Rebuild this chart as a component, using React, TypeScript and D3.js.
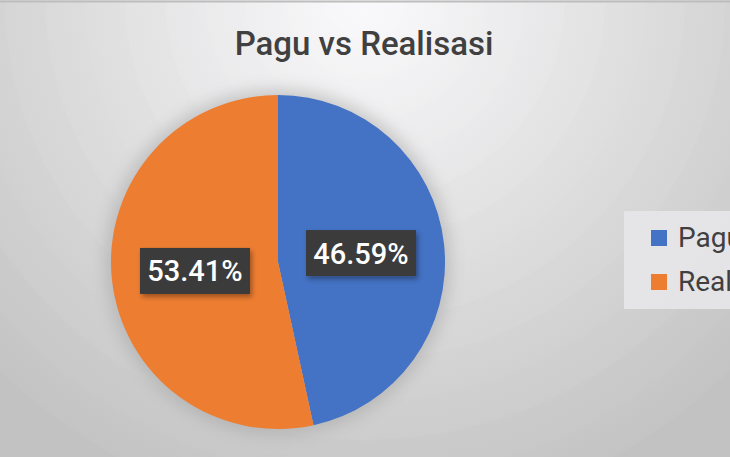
import { useEffect, useRef } from "react";
import * as d3 from "d3";

const categories = ["Pagu", "Realisasi"];
const values = [46.59, 53.41];
const colors = ["#4472c4", "#ed7d31"];

export default function App() {
	const ref = useRef<SVGSVGElement>(null);

	useEffect(() => {
		const svg = d3.select(ref.current);
		svg.selectAll("*").remove();

		const width = 730;
		const height = 457;
		const cx = 278;
		const cy = 262;
		const radius = 167;

		const defs = svg.append("defs");

		// Background radial gradient, stepped to mimic the banding
		const grad = defs.append("radialGradient")
			.attr("id", "bg-grad")
			.attr("gradientUnits", "userSpaceOnUse")
			.attr("cx", 365)
			.attr("cy", 0)
			.attr("r", 560);
		const bands = 14;
		const mix = d3.interpolateRgb("#f9f8fa", "#c2c2c2");
		for (let i = 0; i < bands; i++) {
			const c = mix(Math.pow(i / (bands - 1), 1.1));
			const next = mix(Math.pow(Math.min(i + 0.6, bands - 1) / (bands - 1), 1.1));
			grad.append("stop").attr("offset", i / bands).attr("stop-color", c);
			grad.append("stop").attr("offset", (i + 1) / bands - 0.001).attr("stop-color", next);
		}

		// Soft halo behind the pie
		const halo = defs.append("filter")
			.attr("id", "halo")
			.attr("x", "-30%").attr("y", "-30%")
			.attr("width", "160%").attr("height", "160%");
		halo.append("feGaussianBlur").attr("stdDeviation", 8);

		const shadow = defs.append("filter")
			.attr("id", "box-shadow")
			.attr("x", "-20%").attr("y", "-20%")
			.attr("width", "150%").attr("height", "160%");
		shadow.append("feDropShadow")
			.attr("dx", 2).attr("dy", 3)
			.attr("stdDeviation", 2.5)
			.attr("flood-color", "#000")
			.attr("flood-opacity", 0.35);

		svg.append("rect")
			.attr("width", width)
			.attr("height", height)
			.attr("fill", "url(#bg-grad)");

		svg.append("line")
			.attr("x1", 0).attr("x2", width)
			.attr("y1", 1.5).attr("y2", 1.5)
			.attr("stroke", "#bdbdbd")
			.attr("stroke-width", 2);

		// Title
		svg.append("text")
			.attr("x", 364)
			.attr("y", 55)
			.attr("text-anchor", "middle")
			.attr("font-family", "Roboto, sans-serif")
			.attr("font-size", "33px")
			.attr("font-weight", 500)
			.attr("fill", "#404040")
			.text("Pagu vs Realisasi");

		const g = svg.append("g").attr("transform", `translate(${cx},${cy})`);

		g.append("circle")
			.attr("r", radius + 6)
			.attr("fill", "#9a9a9a")
			.attr("opacity", 0.45)
			.attr("filter", "url(#halo)");

		const pie = d3.pie<number>().sort(null).value(d => d);
		const arcs = pie(values);
		const arc = d3.arc<d3.PieArcDatum<number>>().innerRadius(0).outerRadius(radius);
		const labelArc = d3.arc<d3.PieArcDatum<number>>().innerRadius(radius * 0.5).outerRadius(radius * 0.5);

		g.selectAll(".slice")
			.data(arcs)
			.enter()
			.append("path")
			.attr("class", "slice")
			.attr("d", arc)
			.attr("fill", (_, i) => colors[i]);

		const total = d3.sum(values);
		const labels = g.selectAll(".label")
			.data(arcs)
			.enter()
			.append("g")
			.attr("class", "label")
			.attr("transform", d => {
				const [x, y] = labelArc.centroid(d);
				return `translate(${x},${y})`;
			});

		labels.append("rect")
			.attr("x", -55)
			.attr("y", -23)
			.attr("width", 110)
			.attr("height", 46)
			.attr("fill", "#3a3a3a")
			.attr("filter", "url(#box-shadow)");

		labels.append("text")
			.attr("text-anchor", "middle")
			.attr("dy", "0.36em")
			.attr("font-family", "Roboto, sans-serif")
			.attr("font-size", "29px")
			.attr("font-weight", 500)
			.attr("fill", "#ffffff")
			.text(d => `${((d.value / total) * 100).toFixed(2)}%`);

		// Legend (cut off at the right edge, as in the source)
		const legend = svg.append("g").attr("transform", "translate(624,211)");
		legend.append("rect")
			.attr("width", 140)
			.attr("height", 98)
			.attr("fill", "#e7e5e9")
			.attr("opacity", 0.9);

		categories.forEach((c, i) => {
			const row = legend.append("g").attr("transform", `translate(27, ${19 + i * 44})`);
			row.append("rect")
				.attr("width", 16)
				.attr("height", 16)
				.attr("fill", colors[i]);
			row.append("text")
				.attr("x", 27)
				.attr("y", 17)
				.attr("font-family", "Roboto, sans-serif")
				.attr("font-size", "28px")
				.attr("fill", "#404040")
				.text(c);
		});
	}, []);

	return (
		<svg
			ref={ref}
			width={730}
			height={457}
			style={{ position: "absolute", left: 0, top: 0, display: "block" }}
		/>
	);
}
